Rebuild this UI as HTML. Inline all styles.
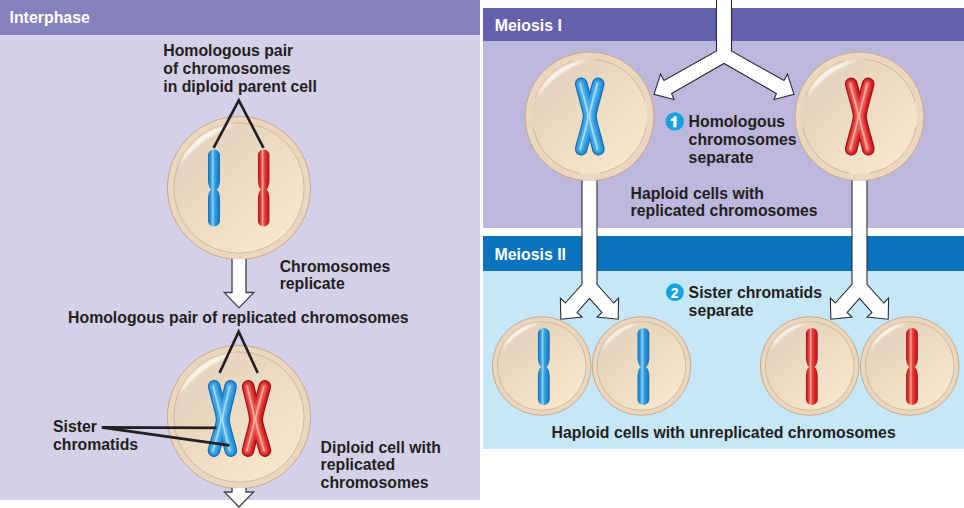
<!DOCTYPE html>
<html><head><meta charset="utf-8">
<style>
html,body{margin:0;padding:0;}
body{width:964px;height:508px;background:#fff;position:relative;overflow:hidden;font-family:"Liberation Sans",sans-serif;}
.p{position:absolute;}
.t{position:absolute;font-weight:bold;font-size:15.8px;line-height:17.6px;color:#231f20;white-space:nowrap;}
.h{position:absolute;font-weight:bold;font-size:15.9px;line-height:18px;color:#fff;white-space:nowrap;}
svg{position:absolute;left:0;top:0;}
</style></head><body>
<div class="p" style="left:0;top:0;width:480px;height:500px;background:#d4d0e7"></div>
<div class="p" style="left:0;top:0;width:480px;height:35px;background:#8681bd"></div>
<div class="p" style="left:483px;top:8px;width:481px;height:220px;background:#bcb7dc"></div>
<div class="p" style="left:483px;top:8px;width:481px;height:33px;background:#6460ab"></div>
<div class="p" style="left:483px;top:236px;width:481px;height:213px;background:#c6e7f7"></div>
<div class="p" style="left:483px;top:236px;width:481px;height:35px;background:#0b72be"></div>

<svg width="964" height="508" viewBox="0 0 964 508">
<defs>
  <linearGradient id="cellg" x1="0.15" y1="0.1" x2="0.85" y2="0.9">
    <stop offset="0" stop-color="#e3d2bc"/>
    <stop offset="0.5" stop-color="#ecdcc3"/>
    <stop offset="1" stop-color="#f7e8cc"/>
  </linearGradient>
  <filter id="blur05" x="-50%" y="-50%" width="200%" height="200%"><feGaussianBlur stdDeviation="0.5"/></filter>
  <filter id="blur15" x="-50%" y="-50%" width="200%" height="200%"><feGaussianBlur stdDeviation="1.8"/></filter>
  <filter id="blur1" x="-50%" y="-50%" width="200%" height="200%"><feGaussianBlur stdDeviation="1.3"/></filter>
  <linearGradient id="hl" x1="0" y1="0" x2="1" y2="1">
    <stop offset="0" stop-color="#fff" stop-opacity="0.9"/>
    <stop offset="1" stop-color="#fff" stop-opacity="0"/>
  </linearGradient>
  <linearGradient id="blueg" x1="0" y1="0" x2="1" y2="0">
    <stop offset="0" stop-color="#1a69b3"/>
    <stop offset="0.14" stop-color="#218ad4"/>
    <stop offset="0.28" stop-color="#45a9e6"/>
    <stop offset="0.40" stop-color="#8ed2f4"/>
    <stop offset="0.54" stop-color="#3ca2e0"/>
    <stop offset="0.8" stop-color="#1f86d0"/>
    <stop offset="1" stop-color="#1966af"/>
  </linearGradient>
  <linearGradient id="redg" x1="0" y1="0" x2="1" y2="0">
    <stop offset="0" stop-color="#a51419"/>
    <stop offset="0.14" stop-color="#d92126"/>
    <stop offset="0.28" stop-color="#ea4c44"/>
    <stop offset="0.40" stop-color="#fcaa9c"/>
    <stop offset="0.54" stop-color="#e7463e"/>
    <stop offset="0.8" stop-color="#d61f24"/>
    <stop offset="1" stop-color="#a31419"/>
  </linearGradient>
  
</defs>


<!-- GEN START -->
<circle cx="239" cy="188" r="71.5" fill="#ebd7bf" stroke="#c9a987" stroke-width="1"/><circle cx="239" cy="188" r="65.2" fill="url(#cellg)"/><circle cx="239" cy="188" r="65.2" fill="none" stroke="#cdae8e" stroke-width="0.8"/><path d="M178.86,166.11 A64.00,64.00 0 0 1 236.77,124.04 A121.60,121.60 0 0 0 178.86,166.11 Z" fill="#fffaf0" fill-opacity="0.88" filter="url(#blur1)"/>
<circle cx="239" cy="417" r="71.5" fill="#ebd7bf" stroke="#c9a987" stroke-width="1"/><circle cx="239" cy="417" r="65.2" fill="url(#cellg)"/><circle cx="239" cy="417" r="65.2" fill="none" stroke="#cdae8e" stroke-width="0.8"/><path d="M178.86,395.11 A64.00,64.00 0 0 1 236.77,353.04 A121.60,121.60 0 0 0 178.86,395.11 Z" fill="#fffaf0" fill-opacity="0.88" filter="url(#blur1)"/>
<circle cx="589.5" cy="116.5" r="64.5" fill="#ebd7bf" stroke="#c9a987" stroke-width="1"/><circle cx="589.5" cy="116.5" r="57.5" fill="url(#cellg)"/><path d="M535.47,96.83 A57.5,57.5 0 0 1 574.62,60.96" fill="none" stroke="#cdae8e" stroke-width="0.8"/><path d="M594.51,59.22 A57.5,57.5 0 0 1 645.04,101.62" fill="none" stroke="#cdae8e" stroke-width="0.8"/><path d="M646.13,126.48 A57.5,57.5 0 0 1 599.48,173.13" fill="none" stroke="#cdae8e" stroke-width="0.8"/><path d="M579.52,173.13 A57.5,57.5 0 0 1 532.87,126.48" fill="none" stroke="#cdae8e" stroke-width="0.8"/><path d="M536.60,97.24 A56.30,56.30 0 0 1 587.54,60.23 A106.97,106.97 0 0 0 536.60,97.24 Z" fill="#fffaf0" fill-opacity="0.88" filter="url(#blur1)"/>
<circle cx="859.5" cy="116.5" r="64.5" fill="#ebd7bf" stroke="#c9a987" stroke-width="1"/><circle cx="859.5" cy="116.5" r="57.5" fill="url(#cellg)"/><path d="M805.47,96.83 A57.5,57.5 0 0 1 844.62,60.96" fill="none" stroke="#cdae8e" stroke-width="0.8"/><path d="M864.51,59.22 A57.5,57.5 0 0 1 915.04,101.62" fill="none" stroke="#cdae8e" stroke-width="0.8"/><path d="M916.13,126.48 A57.5,57.5 0 0 1 869.48,173.13" fill="none" stroke="#cdae8e" stroke-width="0.8"/><path d="M849.52,173.13 A57.5,57.5 0 0 1 802.87,126.48" fill="none" stroke="#cdae8e" stroke-width="0.8"/><path d="M806.60,97.24 A56.30,56.30 0 0 1 857.54,60.23 A106.97,106.97 0 0 0 806.60,97.24 Z" fill="#fffaf0" fill-opacity="0.88" filter="url(#blur1)"/>
<circle cx="541.7" cy="366" r="49.3" fill="#ebd7bf" stroke="#c9a987" stroke-width="1"/><circle cx="541.7" cy="366" r="44.3" fill="url(#cellg)"/><circle cx="541.7" cy="366" r="44.3" fill="none" stroke="#cdae8e" stroke-width="0.8"/><path d="M501.20,351.26 A43.10,43.10 0 0 1 540.20,322.93 A81.89,81.89 0 0 0 501.20,351.26 Z" fill="#fffaf0" fill-opacity="0.88" filter="url(#blur1)"/>
<circle cx="641.5" cy="366" r="49.3" fill="#ebd7bf" stroke="#c9a987" stroke-width="1"/><circle cx="641.5" cy="366" r="44.3" fill="url(#cellg)"/><circle cx="641.5" cy="366" r="44.3" fill="none" stroke="#cdae8e" stroke-width="0.8"/><path d="M601.00,351.26 A43.10,43.10 0 0 1 640.00,322.93 A81.89,81.89 0 0 0 601.00,351.26 Z" fill="#fffaf0" fill-opacity="0.88" filter="url(#blur1)"/>
<circle cx="809.7" cy="366" r="49.3" fill="#ebd7bf" stroke="#c9a987" stroke-width="1"/><circle cx="809.7" cy="366" r="44.3" fill="url(#cellg)"/><circle cx="809.7" cy="366" r="44.3" fill="none" stroke="#cdae8e" stroke-width="0.8"/><path d="M769.20,351.26 A43.10,43.10 0 0 1 808.20,322.93 A81.89,81.89 0 0 0 769.20,351.26 Z" fill="#fffaf0" fill-opacity="0.88" filter="url(#blur1)"/>
<circle cx="909.7" cy="366" r="49.3" fill="#ebd7bf" stroke="#c9a987" stroke-width="1"/><circle cx="909.7" cy="366" r="44.3" fill="url(#cellg)"/><circle cx="909.7" cy="366" r="44.3" fill="none" stroke="#cdae8e" stroke-width="0.8"/><path d="M869.20,351.26 A43.10,43.10 0 0 1 908.20,322.93 A81.89,81.89 0 0 0 869.20,351.26 Z" fill="#fffaf0" fill-opacity="0.88" filter="url(#blur1)"/>
<path d="M214.00,149.50 L216.40,150.00 L217.32,150.50 L217.97,151.00 L218.47,151.50 L218.87,152.00 L219.20,152.50 L219.45,153.00 L219.66,153.50 L219.81,154.00 L219.92,154.50 L219.98,155.00 L220.00,155.50 L220.00,156.00 L220.00,156.50 L220.00,157.00 L220.00,157.50 L220.00,158.00 L220.00,158.50 L220.00,159.00 L220.00,159.50 L220.00,160.00 L220.00,160.50 L220.00,161.00 L220.00,161.50 L220.00,162.00 L220.00,162.50 L220.00,163.00 L220.00,163.50 L220.00,164.00 L220.00,164.50 L220.00,165.00 L220.00,165.50 L220.00,166.00 L220.00,166.50 L220.00,167.00 L220.00,167.50 L220.00,168.00 L220.00,168.50 L220.00,169.00 L220.00,169.50 L220.00,170.00 L220.00,170.50 L220.00,171.00 L220.00,171.50 L220.00,172.00 L220.00,172.50 L220.00,173.00 L220.00,173.50 L220.00,174.00 L220.00,174.50 L220.00,175.00 L220.00,175.50 L220.00,176.00 L220.00,176.50 L220.00,177.00 L220.00,177.50 L220.00,178.00 L220.00,178.50 L220.00,179.00 L220.00,179.50 L220.00,180.00 L219.98,180.50 L219.96,181.00 L219.92,181.50 L219.87,182.00 L219.82,182.50 L219.75,183.00 L219.67,183.50 L219.58,184.00 L219.47,184.50 L219.35,185.00 L219.22,185.50 L219.06,186.00 L218.89,186.50 L218.68,187.00 L218.45,187.50 L218.18,188.00 L217.84,188.50 L217.40,189.00 L216.40,189.50 L217.40,190.00 L217.84,190.50 L218.18,191.00 L218.45,191.50 L218.68,192.00 L218.89,192.50 L219.06,193.00 L219.22,193.50 L219.35,194.00 L219.47,194.50 L219.58,195.00 L219.67,195.50 L219.75,196.00 L219.82,196.50 L219.87,197.00 L219.92,197.50 L219.96,198.00 L219.98,198.50 L220.00,199.00 L220.00,199.50 L220.00,200.00 L220.00,200.50 L220.00,201.00 L220.00,201.50 L220.00,202.00 L220.00,202.50 L220.00,203.00 L220.00,203.50 L220.00,204.00 L220.00,204.50 L220.00,205.00 L220.00,205.50 L220.00,206.00 L220.00,206.50 L220.00,207.00 L220.00,207.50 L220.00,208.00 L220.00,208.50 L220.00,209.00 L220.00,209.50 L220.00,210.00 L220.00,210.50 L220.00,211.00 L220.00,211.50 L220.00,212.00 L220.00,212.50 L220.00,213.00 L220.00,213.50 L220.00,214.00 L220.00,214.50 L220.00,215.00 L220.00,215.50 L220.00,216.00 L220.00,216.50 L220.00,217.00 L220.00,217.50 L220.00,218.00 L220.00,218.50 L220.00,219.00 L220.00,219.50 L220.00,220.00 L220.00,220.50 L219.98,221.00 L219.92,221.50 L219.81,222.00 L219.66,222.50 L219.45,223.00 L219.20,223.50 L218.87,224.00 L218.47,224.50 L217.97,225.00 L217.32,225.50 L216.40,226.00 L214.00,226.50 L214.00,226.50 L211.60,226.00 L210.68,225.50 L210.03,225.00 L209.53,224.50 L209.13,224.00 L208.80,223.50 L208.55,223.00 L208.34,222.50 L208.19,222.00 L208.08,221.50 L208.02,221.00 L208.00,220.50 L208.00,220.00 L208.00,219.50 L208.00,219.00 L208.00,218.50 L208.00,218.00 L208.00,217.50 L208.00,217.00 L208.00,216.50 L208.00,216.00 L208.00,215.50 L208.00,215.00 L208.00,214.50 L208.00,214.00 L208.00,213.50 L208.00,213.00 L208.00,212.50 L208.00,212.00 L208.00,211.50 L208.00,211.00 L208.00,210.50 L208.00,210.00 L208.00,209.50 L208.00,209.00 L208.00,208.50 L208.00,208.00 L208.00,207.50 L208.00,207.00 L208.00,206.50 L208.00,206.00 L208.00,205.50 L208.00,205.00 L208.00,204.50 L208.00,204.00 L208.00,203.50 L208.00,203.00 L208.00,202.50 L208.00,202.00 L208.00,201.50 L208.00,201.00 L208.00,200.50 L208.00,200.00 L208.00,199.50 L208.00,199.00 L208.02,198.50 L208.04,198.00 L208.08,197.50 L208.13,197.00 L208.18,196.50 L208.25,196.00 L208.33,195.50 L208.42,195.00 L208.53,194.50 L208.65,194.00 L208.78,193.50 L208.94,193.00 L209.11,192.50 L209.32,192.00 L209.55,191.50 L209.82,191.00 L210.16,190.50 L210.60,190.00 L211.60,189.50 L210.60,189.00 L210.16,188.50 L209.82,188.00 L209.55,187.50 L209.32,187.00 L209.11,186.50 L208.94,186.00 L208.78,185.50 L208.65,185.00 L208.53,184.50 L208.42,184.00 L208.33,183.50 L208.25,183.00 L208.18,182.50 L208.13,182.00 L208.08,181.50 L208.04,181.00 L208.02,180.50 L208.00,180.00 L208.00,179.50 L208.00,179.00 L208.00,178.50 L208.00,178.00 L208.00,177.50 L208.00,177.00 L208.00,176.50 L208.00,176.00 L208.00,175.50 L208.00,175.00 L208.00,174.50 L208.00,174.00 L208.00,173.50 L208.00,173.00 L208.00,172.50 L208.00,172.00 L208.00,171.50 L208.00,171.00 L208.00,170.50 L208.00,170.00 L208.00,169.50 L208.00,169.00 L208.00,168.50 L208.00,168.00 L208.00,167.50 L208.00,167.00 L208.00,166.50 L208.00,166.00 L208.00,165.50 L208.00,165.00 L208.00,164.50 L208.00,164.00 L208.00,163.50 L208.00,163.00 L208.00,162.50 L208.00,162.00 L208.00,161.50 L208.00,161.00 L208.00,160.50 L208.00,160.00 L208.00,159.50 L208.00,159.00 L208.00,158.50 L208.00,158.00 L208.00,157.50 L208.00,157.00 L208.00,156.50 L208.00,156.00 L208.00,155.50 L208.02,155.00 L208.08,154.50 L208.19,154.00 L208.34,153.50 L208.55,153.00 L208.80,152.50 L209.13,152.00 L209.53,151.50 L210.03,151.00 L210.68,150.50 L211.60,150.00 L214.00,149.50 Z" fill="url(#blueg)"/>
<path d="M263.70,149.50 L266.05,150.00 L266.94,150.50 L267.57,151.00 L268.06,151.50 L268.44,152.00 L268.75,152.50 L268.99,153.00 L269.18,153.50 L269.31,154.00 L269.40,154.50 L269.44,155.00 L269.45,155.50 L269.45,156.00 L269.45,156.50 L269.45,157.00 L269.45,157.50 L269.45,158.00 L269.45,158.50 L269.45,159.00 L269.45,159.50 L269.45,160.00 L269.45,160.50 L269.45,161.00 L269.45,161.50 L269.45,162.00 L269.45,162.50 L269.45,163.00 L269.45,163.50 L269.45,164.00 L269.45,164.50 L269.45,165.00 L269.45,165.50 L269.45,166.00 L269.45,166.50 L269.45,167.00 L269.45,167.50 L269.45,168.00 L269.45,168.50 L269.45,169.00 L269.45,169.50 L269.45,170.00 L269.45,170.50 L269.45,171.00 L269.45,171.50 L269.45,172.00 L269.45,172.50 L269.45,173.00 L269.45,173.50 L269.45,174.00 L269.45,174.50 L269.45,175.00 L269.45,175.50 L269.45,176.00 L269.45,176.50 L269.45,177.00 L269.45,177.50 L269.45,178.00 L269.45,178.50 L269.45,179.00 L269.45,179.50 L269.45,180.00 L269.43,180.50 L269.41,181.00 L269.38,181.50 L269.33,182.00 L269.28,182.50 L269.22,183.00 L269.14,183.50 L269.06,184.00 L268.96,184.50 L268.85,185.00 L268.72,185.50 L268.58,186.00 L268.41,186.50 L268.23,187.00 L268.01,187.50 L267.76,188.00 L267.44,188.50 L267.03,189.00 L266.10,189.50 L267.03,190.00 L267.44,190.50 L267.76,191.00 L268.01,191.50 L268.23,192.00 L268.41,192.50 L268.58,193.00 L268.72,193.50 L268.85,194.00 L268.96,194.50 L269.06,195.00 L269.14,195.50 L269.22,196.00 L269.28,196.50 L269.33,197.00 L269.38,197.50 L269.41,198.00 L269.43,198.50 L269.45,199.00 L269.45,199.50 L269.45,200.00 L269.45,200.50 L269.45,201.00 L269.45,201.50 L269.45,202.00 L269.45,202.50 L269.45,203.00 L269.45,203.50 L269.45,204.00 L269.45,204.50 L269.45,205.00 L269.45,205.50 L269.45,206.00 L269.45,206.50 L269.45,207.00 L269.45,207.50 L269.45,208.00 L269.45,208.50 L269.45,209.00 L269.45,209.50 L269.45,210.00 L269.45,210.50 L269.45,211.00 L269.45,211.50 L269.45,212.00 L269.45,212.50 L269.45,213.00 L269.45,213.50 L269.45,214.00 L269.45,214.50 L269.45,215.00 L269.45,215.50 L269.45,216.00 L269.45,216.50 L269.45,217.00 L269.45,217.50 L269.45,218.00 L269.45,218.50 L269.45,219.00 L269.45,219.50 L269.45,220.00 L269.45,220.50 L269.44,221.00 L269.40,221.50 L269.31,222.00 L269.18,222.50 L268.99,223.00 L268.75,223.50 L268.44,224.00 L268.06,224.50 L267.57,225.00 L266.94,225.50 L266.05,226.00 L263.70,226.50 L263.70,226.50 L261.35,226.00 L260.46,225.50 L259.83,225.00 L259.34,224.50 L258.96,224.00 L258.65,223.50 L258.41,223.00 L258.22,222.50 L258.09,222.00 L258.00,221.50 L257.96,221.00 L257.95,220.50 L257.95,220.00 L257.95,219.50 L257.95,219.00 L257.95,218.50 L257.95,218.00 L257.95,217.50 L257.95,217.00 L257.95,216.50 L257.95,216.00 L257.95,215.50 L257.95,215.00 L257.95,214.50 L257.95,214.00 L257.95,213.50 L257.95,213.00 L257.95,212.50 L257.95,212.00 L257.95,211.50 L257.95,211.00 L257.95,210.50 L257.95,210.00 L257.95,209.50 L257.95,209.00 L257.95,208.50 L257.95,208.00 L257.95,207.50 L257.95,207.00 L257.95,206.50 L257.95,206.00 L257.95,205.50 L257.95,205.00 L257.95,204.50 L257.95,204.00 L257.95,203.50 L257.95,203.00 L257.95,202.50 L257.95,202.00 L257.95,201.50 L257.95,201.00 L257.95,200.50 L257.95,200.00 L257.95,199.50 L257.95,199.00 L257.97,198.50 L257.99,198.00 L258.02,197.50 L258.07,197.00 L258.12,196.50 L258.18,196.00 L258.26,195.50 L258.34,195.00 L258.44,194.50 L258.55,194.00 L258.68,193.50 L258.82,193.00 L258.99,192.50 L259.17,192.00 L259.39,191.50 L259.64,191.00 L259.96,190.50 L260.37,190.00 L261.30,189.50 L260.37,189.00 L259.96,188.50 L259.64,188.00 L259.39,187.50 L259.17,187.00 L258.99,186.50 L258.82,186.00 L258.68,185.50 L258.55,185.00 L258.44,184.50 L258.34,184.00 L258.26,183.50 L258.18,183.00 L258.12,182.50 L258.07,182.00 L258.02,181.50 L257.99,181.00 L257.97,180.50 L257.95,180.00 L257.95,179.50 L257.95,179.00 L257.95,178.50 L257.95,178.00 L257.95,177.50 L257.95,177.00 L257.95,176.50 L257.95,176.00 L257.95,175.50 L257.95,175.00 L257.95,174.50 L257.95,174.00 L257.95,173.50 L257.95,173.00 L257.95,172.50 L257.95,172.00 L257.95,171.50 L257.95,171.00 L257.95,170.50 L257.95,170.00 L257.95,169.50 L257.95,169.00 L257.95,168.50 L257.95,168.00 L257.95,167.50 L257.95,167.00 L257.95,166.50 L257.95,166.00 L257.95,165.50 L257.95,165.00 L257.95,164.50 L257.95,164.00 L257.95,163.50 L257.95,163.00 L257.95,162.50 L257.95,162.00 L257.95,161.50 L257.95,161.00 L257.95,160.50 L257.95,160.00 L257.95,159.50 L257.95,159.00 L257.95,158.50 L257.95,158.00 L257.95,157.50 L257.95,157.00 L257.95,156.50 L257.95,156.00 L257.95,155.50 L257.96,155.00 L258.00,154.50 L258.09,154.00 L258.22,153.50 L258.41,153.00 L258.65,152.50 L258.96,152.00 L259.34,151.50 L259.83,151.00 L260.46,150.50 L261.35,150.00 L263.70,149.50 Z" fill="url(#redg)"/>
<path d="M543.80,328.00 L546.18,328.50 L547.09,329.00 L547.73,329.50 L548.23,330.00 L548.62,330.50 L548.94,331.00 L549.19,331.50 L549.39,332.00 L549.53,332.50 L549.63,333.00 L549.69,333.50 L549.70,334.00 L549.70,334.50 L549.70,335.00 L549.70,335.50 L549.70,336.00 L549.70,336.50 L549.70,337.00 L549.70,337.50 L549.70,338.00 L549.70,338.50 L549.70,339.00 L549.70,339.50 L549.70,340.00 L549.70,340.50 L549.70,341.00 L549.70,341.50 L549.70,342.00 L549.70,342.50 L549.70,343.00 L549.70,343.50 L549.70,344.00 L549.70,344.50 L549.70,345.00 L549.70,345.50 L549.70,346.00 L549.70,346.50 L549.70,347.00 L549.70,347.50 L549.70,348.00 L549.70,348.50 L549.70,349.00 L549.70,349.50 L549.70,350.00 L549.70,350.50 L549.70,351.00 L549.70,351.50 L549.70,352.00 L549.70,352.50 L549.70,353.00 L549.70,353.50 L549.70,354.00 L549.70,354.50 L549.70,355.00 L549.70,355.50 L549.70,356.00 L549.70,356.50 L549.70,357.00 L549.69,357.50 L549.68,358.00 L549.65,358.50 L549.62,359.00 L549.57,359.50 L549.51,360.00 L549.44,360.50 L549.36,361.00 L549.27,361.50 L549.16,362.00 L549.03,362.50 L548.89,363.00 L548.74,363.50 L548.55,364.00 L548.35,364.50 L548.11,365.00 L547.83,365.50 L547.48,366.00 L547.03,366.50 L546.00,367.00 L547.03,367.50 L547.48,368.00 L547.83,368.50 L548.11,369.00 L548.35,369.50 L548.55,370.00 L548.74,370.50 L548.89,371.00 L549.03,371.50 L549.16,372.00 L549.27,372.50 L549.36,373.00 L549.44,373.50 L549.51,374.00 L549.57,374.50 L549.62,375.00 L549.65,375.50 L549.68,376.00 L549.69,376.50 L549.70,377.00 L549.70,377.50 L549.70,378.00 L549.70,378.50 L549.70,379.00 L549.70,379.50 L549.70,380.00 L549.70,380.50 L549.70,381.00 L549.70,381.50 L549.70,382.00 L549.70,382.50 L549.70,383.00 L549.70,383.50 L549.70,384.00 L549.70,384.50 L549.70,385.00 L549.70,385.50 L549.70,386.00 L549.70,386.50 L549.70,387.00 L549.70,387.50 L549.70,388.00 L549.70,388.50 L549.70,389.00 L549.70,389.50 L549.70,390.00 L549.70,390.50 L549.70,391.00 L549.70,391.50 L549.70,392.00 L549.70,392.50 L549.70,393.00 L549.70,393.50 L549.70,394.00 L549.70,394.50 L549.70,395.00 L549.70,395.50 L549.70,396.00 L549.70,396.50 L549.70,397.00 L549.70,397.50 L549.70,398.00 L549.70,398.50 L549.70,399.00 L549.69,399.50 L549.63,400.00 L549.53,400.50 L549.39,401.00 L549.19,401.50 L548.94,402.00 L548.62,402.50 L548.23,403.00 L547.73,403.50 L547.09,404.00 L546.18,404.50 L543.80,405.00 L543.80,405.00 L541.42,404.50 L540.51,404.00 L539.87,403.50 L539.37,403.00 L538.98,402.50 L538.66,402.00 L538.41,401.50 L538.21,401.00 L538.07,400.50 L537.97,400.00 L537.91,399.50 L537.90,399.00 L537.90,398.50 L537.90,398.00 L537.90,397.50 L537.90,397.00 L537.90,396.50 L537.90,396.00 L537.90,395.50 L537.90,395.00 L537.90,394.50 L537.90,394.00 L537.90,393.50 L537.90,393.00 L537.90,392.50 L537.90,392.00 L537.90,391.50 L537.90,391.00 L537.90,390.50 L537.90,390.00 L537.90,389.50 L537.90,389.00 L537.90,388.50 L537.90,388.00 L537.90,387.50 L537.90,387.00 L537.90,386.50 L537.90,386.00 L537.90,385.50 L537.90,385.00 L537.90,384.50 L537.90,384.00 L537.90,383.50 L537.90,383.00 L537.90,382.50 L537.90,382.00 L537.90,381.50 L537.90,381.00 L537.90,380.50 L537.90,380.00 L537.90,379.50 L537.90,379.00 L537.90,378.50 L537.90,378.00 L537.90,377.50 L537.90,377.00 L537.91,376.50 L537.92,376.00 L537.95,375.50 L537.98,375.00 L538.03,374.50 L538.09,374.00 L538.16,373.50 L538.24,373.00 L538.33,372.50 L538.44,372.00 L538.57,371.50 L538.71,371.00 L538.86,370.50 L539.05,370.00 L539.25,369.50 L539.49,369.00 L539.77,368.50 L540.12,368.00 L540.57,367.50 L541.60,367.00 L540.57,366.50 L540.12,366.00 L539.77,365.50 L539.49,365.00 L539.25,364.50 L539.05,364.00 L538.86,363.50 L538.71,363.00 L538.57,362.50 L538.44,362.00 L538.33,361.50 L538.24,361.00 L538.16,360.50 L538.09,360.00 L538.03,359.50 L537.98,359.00 L537.95,358.50 L537.92,358.00 L537.91,357.50 L537.90,357.00 L537.90,356.50 L537.90,356.00 L537.90,355.50 L537.90,355.00 L537.90,354.50 L537.90,354.00 L537.90,353.50 L537.90,353.00 L537.90,352.50 L537.90,352.00 L537.90,351.50 L537.90,351.00 L537.90,350.50 L537.90,350.00 L537.90,349.50 L537.90,349.00 L537.90,348.50 L537.90,348.00 L537.90,347.50 L537.90,347.00 L537.90,346.50 L537.90,346.00 L537.90,345.50 L537.90,345.00 L537.90,344.50 L537.90,344.00 L537.90,343.50 L537.90,343.00 L537.90,342.50 L537.90,342.00 L537.90,341.50 L537.90,341.00 L537.90,340.50 L537.90,340.00 L537.90,339.50 L537.90,339.00 L537.90,338.50 L537.90,338.00 L537.90,337.50 L537.90,337.00 L537.90,336.50 L537.90,336.00 L537.90,335.50 L537.90,335.00 L537.90,334.50 L537.90,334.00 L537.91,333.50 L537.97,333.00 L538.07,332.50 L538.21,332.00 L538.41,331.50 L538.66,331.00 L538.98,330.50 L539.37,330.00 L539.87,329.50 L540.51,329.00 L541.42,328.50 L543.80,328.00 Z" fill="url(#blueg)"/>
<path d="M643.40,328.00 L645.78,328.50 L646.69,329.00 L647.33,329.50 L647.83,330.00 L648.22,330.50 L648.54,331.00 L648.79,331.50 L648.99,332.00 L649.13,332.50 L649.23,333.00 L649.29,333.50 L649.30,334.00 L649.30,334.50 L649.30,335.00 L649.30,335.50 L649.30,336.00 L649.30,336.50 L649.30,337.00 L649.30,337.50 L649.30,338.00 L649.30,338.50 L649.30,339.00 L649.30,339.50 L649.30,340.00 L649.30,340.50 L649.30,341.00 L649.30,341.50 L649.30,342.00 L649.30,342.50 L649.30,343.00 L649.30,343.50 L649.30,344.00 L649.30,344.50 L649.30,345.00 L649.30,345.50 L649.30,346.00 L649.30,346.50 L649.30,347.00 L649.30,347.50 L649.30,348.00 L649.30,348.50 L649.30,349.00 L649.30,349.50 L649.30,350.00 L649.30,350.50 L649.30,351.00 L649.30,351.50 L649.30,352.00 L649.30,352.50 L649.30,353.00 L649.30,353.50 L649.30,354.00 L649.30,354.50 L649.30,355.00 L649.30,355.50 L649.30,356.00 L649.30,356.50 L649.30,357.00 L649.29,357.50 L649.28,358.00 L649.25,358.50 L649.22,359.00 L649.17,359.50 L649.11,360.00 L649.04,360.50 L648.96,361.00 L648.87,361.50 L648.76,362.00 L648.63,362.50 L648.49,363.00 L648.34,363.50 L648.15,364.00 L647.95,364.50 L647.71,365.00 L647.43,365.50 L647.08,366.00 L646.63,366.50 L645.60,367.00 L646.63,367.50 L647.08,368.00 L647.43,368.50 L647.71,369.00 L647.95,369.50 L648.15,370.00 L648.34,370.50 L648.49,371.00 L648.63,371.50 L648.76,372.00 L648.87,372.50 L648.96,373.00 L649.04,373.50 L649.11,374.00 L649.17,374.50 L649.22,375.00 L649.25,375.50 L649.28,376.00 L649.29,376.50 L649.30,377.00 L649.30,377.50 L649.30,378.00 L649.30,378.50 L649.30,379.00 L649.30,379.50 L649.30,380.00 L649.30,380.50 L649.30,381.00 L649.30,381.50 L649.30,382.00 L649.30,382.50 L649.30,383.00 L649.30,383.50 L649.30,384.00 L649.30,384.50 L649.30,385.00 L649.30,385.50 L649.30,386.00 L649.30,386.50 L649.30,387.00 L649.30,387.50 L649.30,388.00 L649.30,388.50 L649.30,389.00 L649.30,389.50 L649.30,390.00 L649.30,390.50 L649.30,391.00 L649.30,391.50 L649.30,392.00 L649.30,392.50 L649.30,393.00 L649.30,393.50 L649.30,394.00 L649.30,394.50 L649.30,395.00 L649.30,395.50 L649.30,396.00 L649.30,396.50 L649.30,397.00 L649.30,397.50 L649.30,398.00 L649.30,398.50 L649.30,399.00 L649.29,399.50 L649.23,400.00 L649.13,400.50 L648.99,401.00 L648.79,401.50 L648.54,402.00 L648.22,402.50 L647.83,403.00 L647.33,403.50 L646.69,404.00 L645.78,404.50 L643.40,405.00 L643.40,405.00 L641.02,404.50 L640.11,404.00 L639.47,403.50 L638.97,403.00 L638.58,402.50 L638.26,402.00 L638.01,401.50 L637.81,401.00 L637.67,400.50 L637.57,400.00 L637.51,399.50 L637.50,399.00 L637.50,398.50 L637.50,398.00 L637.50,397.50 L637.50,397.00 L637.50,396.50 L637.50,396.00 L637.50,395.50 L637.50,395.00 L637.50,394.50 L637.50,394.00 L637.50,393.50 L637.50,393.00 L637.50,392.50 L637.50,392.00 L637.50,391.50 L637.50,391.00 L637.50,390.50 L637.50,390.00 L637.50,389.50 L637.50,389.00 L637.50,388.50 L637.50,388.00 L637.50,387.50 L637.50,387.00 L637.50,386.50 L637.50,386.00 L637.50,385.50 L637.50,385.00 L637.50,384.50 L637.50,384.00 L637.50,383.50 L637.50,383.00 L637.50,382.50 L637.50,382.00 L637.50,381.50 L637.50,381.00 L637.50,380.50 L637.50,380.00 L637.50,379.50 L637.50,379.00 L637.50,378.50 L637.50,378.00 L637.50,377.50 L637.50,377.00 L637.51,376.50 L637.52,376.00 L637.55,375.50 L637.58,375.00 L637.63,374.50 L637.69,374.00 L637.76,373.50 L637.84,373.00 L637.93,372.50 L638.04,372.00 L638.17,371.50 L638.31,371.00 L638.46,370.50 L638.65,370.00 L638.85,369.50 L639.09,369.00 L639.37,368.50 L639.72,368.00 L640.17,367.50 L641.20,367.00 L640.17,366.50 L639.72,366.00 L639.37,365.50 L639.09,365.00 L638.85,364.50 L638.65,364.00 L638.46,363.50 L638.31,363.00 L638.17,362.50 L638.04,362.00 L637.93,361.50 L637.84,361.00 L637.76,360.50 L637.69,360.00 L637.63,359.50 L637.58,359.00 L637.55,358.50 L637.52,358.00 L637.51,357.50 L637.50,357.00 L637.50,356.50 L637.50,356.00 L637.50,355.50 L637.50,355.00 L637.50,354.50 L637.50,354.00 L637.50,353.50 L637.50,353.00 L637.50,352.50 L637.50,352.00 L637.50,351.50 L637.50,351.00 L637.50,350.50 L637.50,350.00 L637.50,349.50 L637.50,349.00 L637.50,348.50 L637.50,348.00 L637.50,347.50 L637.50,347.00 L637.50,346.50 L637.50,346.00 L637.50,345.50 L637.50,345.00 L637.50,344.50 L637.50,344.00 L637.50,343.50 L637.50,343.00 L637.50,342.50 L637.50,342.00 L637.50,341.50 L637.50,341.00 L637.50,340.50 L637.50,340.00 L637.50,339.50 L637.50,339.00 L637.50,338.50 L637.50,338.00 L637.50,337.50 L637.50,337.00 L637.50,336.50 L637.50,336.00 L637.50,335.50 L637.50,335.00 L637.50,334.50 L637.50,334.00 L637.51,333.50 L637.57,333.00 L637.67,332.50 L637.81,332.00 L638.01,331.50 L638.26,331.00 L638.58,330.50 L638.97,330.00 L639.47,329.50 L640.11,329.00 L641.02,328.50 L643.40,328.00 Z" fill="url(#blueg)"/>
<path d="M811.80,328.00 L814.18,328.50 L815.09,329.00 L815.73,329.50 L816.23,330.00 L816.62,330.50 L816.94,331.00 L817.19,331.50 L817.39,332.00 L817.53,332.50 L817.63,333.00 L817.69,333.50 L817.70,334.00 L817.70,334.50 L817.70,335.00 L817.70,335.50 L817.70,336.00 L817.70,336.50 L817.70,337.00 L817.70,337.50 L817.70,338.00 L817.70,338.50 L817.70,339.00 L817.70,339.50 L817.70,340.00 L817.70,340.50 L817.70,341.00 L817.70,341.50 L817.70,342.00 L817.70,342.50 L817.70,343.00 L817.70,343.50 L817.70,344.00 L817.70,344.50 L817.70,345.00 L817.70,345.50 L817.70,346.00 L817.70,346.50 L817.70,347.00 L817.70,347.50 L817.70,348.00 L817.70,348.50 L817.70,349.00 L817.70,349.50 L817.70,350.00 L817.70,350.50 L817.70,351.00 L817.70,351.50 L817.70,352.00 L817.70,352.50 L817.70,353.00 L817.70,353.50 L817.70,354.00 L817.70,354.50 L817.70,355.00 L817.70,355.50 L817.70,356.00 L817.70,356.50 L817.70,357.00 L817.69,357.50 L817.68,358.00 L817.65,358.50 L817.62,359.00 L817.57,359.50 L817.51,360.00 L817.44,360.50 L817.36,361.00 L817.27,361.50 L817.16,362.00 L817.03,362.50 L816.89,363.00 L816.74,363.50 L816.55,364.00 L816.35,364.50 L816.11,365.00 L815.83,365.50 L815.48,366.00 L815.03,366.50 L814.00,367.00 L815.03,367.50 L815.48,368.00 L815.83,368.50 L816.11,369.00 L816.35,369.50 L816.55,370.00 L816.74,370.50 L816.89,371.00 L817.03,371.50 L817.16,372.00 L817.27,372.50 L817.36,373.00 L817.44,373.50 L817.51,374.00 L817.57,374.50 L817.62,375.00 L817.65,375.50 L817.68,376.00 L817.69,376.50 L817.70,377.00 L817.70,377.50 L817.70,378.00 L817.70,378.50 L817.70,379.00 L817.70,379.50 L817.70,380.00 L817.70,380.50 L817.70,381.00 L817.70,381.50 L817.70,382.00 L817.70,382.50 L817.70,383.00 L817.70,383.50 L817.70,384.00 L817.70,384.50 L817.70,385.00 L817.70,385.50 L817.70,386.00 L817.70,386.50 L817.70,387.00 L817.70,387.50 L817.70,388.00 L817.70,388.50 L817.70,389.00 L817.70,389.50 L817.70,390.00 L817.70,390.50 L817.70,391.00 L817.70,391.50 L817.70,392.00 L817.70,392.50 L817.70,393.00 L817.70,393.50 L817.70,394.00 L817.70,394.50 L817.70,395.00 L817.70,395.50 L817.70,396.00 L817.70,396.50 L817.70,397.00 L817.70,397.50 L817.70,398.00 L817.70,398.50 L817.70,399.00 L817.69,399.50 L817.63,400.00 L817.53,400.50 L817.39,401.00 L817.19,401.50 L816.94,402.00 L816.62,402.50 L816.23,403.00 L815.73,403.50 L815.09,404.00 L814.18,404.50 L811.80,405.00 L811.80,405.00 L809.42,404.50 L808.51,404.00 L807.87,403.50 L807.37,403.00 L806.98,402.50 L806.66,402.00 L806.41,401.50 L806.21,401.00 L806.07,400.50 L805.97,400.00 L805.91,399.50 L805.90,399.00 L805.90,398.50 L805.90,398.00 L805.90,397.50 L805.90,397.00 L805.90,396.50 L805.90,396.00 L805.90,395.50 L805.90,395.00 L805.90,394.50 L805.90,394.00 L805.90,393.50 L805.90,393.00 L805.90,392.50 L805.90,392.00 L805.90,391.50 L805.90,391.00 L805.90,390.50 L805.90,390.00 L805.90,389.50 L805.90,389.00 L805.90,388.50 L805.90,388.00 L805.90,387.50 L805.90,387.00 L805.90,386.50 L805.90,386.00 L805.90,385.50 L805.90,385.00 L805.90,384.50 L805.90,384.00 L805.90,383.50 L805.90,383.00 L805.90,382.50 L805.90,382.00 L805.90,381.50 L805.90,381.00 L805.90,380.50 L805.90,380.00 L805.90,379.50 L805.90,379.00 L805.90,378.50 L805.90,378.00 L805.90,377.50 L805.90,377.00 L805.91,376.50 L805.92,376.00 L805.95,375.50 L805.98,375.00 L806.03,374.50 L806.09,374.00 L806.16,373.50 L806.24,373.00 L806.33,372.50 L806.44,372.00 L806.57,371.50 L806.71,371.00 L806.86,370.50 L807.05,370.00 L807.25,369.50 L807.49,369.00 L807.77,368.50 L808.12,368.00 L808.57,367.50 L809.60,367.00 L808.57,366.50 L808.12,366.00 L807.77,365.50 L807.49,365.00 L807.25,364.50 L807.05,364.00 L806.86,363.50 L806.71,363.00 L806.57,362.50 L806.44,362.00 L806.33,361.50 L806.24,361.00 L806.16,360.50 L806.09,360.00 L806.03,359.50 L805.98,359.00 L805.95,358.50 L805.92,358.00 L805.91,357.50 L805.90,357.00 L805.90,356.50 L805.90,356.00 L805.90,355.50 L805.90,355.00 L805.90,354.50 L805.90,354.00 L805.90,353.50 L805.90,353.00 L805.90,352.50 L805.90,352.00 L805.90,351.50 L805.90,351.00 L805.90,350.50 L805.90,350.00 L805.90,349.50 L805.90,349.00 L805.90,348.50 L805.90,348.00 L805.90,347.50 L805.90,347.00 L805.90,346.50 L805.90,346.00 L805.90,345.50 L805.90,345.00 L805.90,344.50 L805.90,344.00 L805.90,343.50 L805.90,343.00 L805.90,342.50 L805.90,342.00 L805.90,341.50 L805.90,341.00 L805.90,340.50 L805.90,340.00 L805.90,339.50 L805.90,339.00 L805.90,338.50 L805.90,338.00 L805.90,337.50 L805.90,337.00 L805.90,336.50 L805.90,336.00 L805.90,335.50 L805.90,335.00 L805.90,334.50 L805.90,334.00 L805.91,333.50 L805.97,333.00 L806.07,332.50 L806.21,332.00 L806.41,331.50 L806.66,331.00 L806.98,330.50 L807.37,330.00 L807.87,329.50 L808.51,329.00 L809.42,328.50 L811.80,328.00 Z" fill="url(#redg)"/>
<path d="M912.00,328.00 L914.38,328.50 L915.29,329.00 L915.93,329.50 L916.43,330.00 L916.82,330.50 L917.14,331.00 L917.39,331.50 L917.59,332.00 L917.73,332.50 L917.83,333.00 L917.89,333.50 L917.90,334.00 L917.90,334.50 L917.90,335.00 L917.90,335.50 L917.90,336.00 L917.90,336.50 L917.90,337.00 L917.90,337.50 L917.90,338.00 L917.90,338.50 L917.90,339.00 L917.90,339.50 L917.90,340.00 L917.90,340.50 L917.90,341.00 L917.90,341.50 L917.90,342.00 L917.90,342.50 L917.90,343.00 L917.90,343.50 L917.90,344.00 L917.90,344.50 L917.90,345.00 L917.90,345.50 L917.90,346.00 L917.90,346.50 L917.90,347.00 L917.90,347.50 L917.90,348.00 L917.90,348.50 L917.90,349.00 L917.90,349.50 L917.90,350.00 L917.90,350.50 L917.90,351.00 L917.90,351.50 L917.90,352.00 L917.90,352.50 L917.90,353.00 L917.90,353.50 L917.90,354.00 L917.90,354.50 L917.90,355.00 L917.90,355.50 L917.90,356.00 L917.90,356.50 L917.90,357.00 L917.89,357.50 L917.88,358.00 L917.85,358.50 L917.82,359.00 L917.77,359.50 L917.71,360.00 L917.64,360.50 L917.56,361.00 L917.47,361.50 L917.36,362.00 L917.23,362.50 L917.09,363.00 L916.94,363.50 L916.75,364.00 L916.55,364.50 L916.31,365.00 L916.03,365.50 L915.68,366.00 L915.23,366.50 L914.20,367.00 L915.23,367.50 L915.68,368.00 L916.03,368.50 L916.31,369.00 L916.55,369.50 L916.75,370.00 L916.94,370.50 L917.09,371.00 L917.23,371.50 L917.36,372.00 L917.47,372.50 L917.56,373.00 L917.64,373.50 L917.71,374.00 L917.77,374.50 L917.82,375.00 L917.85,375.50 L917.88,376.00 L917.89,376.50 L917.90,377.00 L917.90,377.50 L917.90,378.00 L917.90,378.50 L917.90,379.00 L917.90,379.50 L917.90,380.00 L917.90,380.50 L917.90,381.00 L917.90,381.50 L917.90,382.00 L917.90,382.50 L917.90,383.00 L917.90,383.50 L917.90,384.00 L917.90,384.50 L917.90,385.00 L917.90,385.50 L917.90,386.00 L917.90,386.50 L917.90,387.00 L917.90,387.50 L917.90,388.00 L917.90,388.50 L917.90,389.00 L917.90,389.50 L917.90,390.00 L917.90,390.50 L917.90,391.00 L917.90,391.50 L917.90,392.00 L917.90,392.50 L917.90,393.00 L917.90,393.50 L917.90,394.00 L917.90,394.50 L917.90,395.00 L917.90,395.50 L917.90,396.00 L917.90,396.50 L917.90,397.00 L917.90,397.50 L917.90,398.00 L917.90,398.50 L917.90,399.00 L917.89,399.50 L917.83,400.00 L917.73,400.50 L917.59,401.00 L917.39,401.50 L917.14,402.00 L916.82,402.50 L916.43,403.00 L915.93,403.50 L915.29,404.00 L914.38,404.50 L912.00,405.00 L912.00,405.00 L909.62,404.50 L908.71,404.00 L908.07,403.50 L907.57,403.00 L907.18,402.50 L906.86,402.00 L906.61,401.50 L906.41,401.00 L906.27,400.50 L906.17,400.00 L906.11,399.50 L906.10,399.00 L906.10,398.50 L906.10,398.00 L906.10,397.50 L906.10,397.00 L906.10,396.50 L906.10,396.00 L906.10,395.50 L906.10,395.00 L906.10,394.50 L906.10,394.00 L906.10,393.50 L906.10,393.00 L906.10,392.50 L906.10,392.00 L906.10,391.50 L906.10,391.00 L906.10,390.50 L906.10,390.00 L906.10,389.50 L906.10,389.00 L906.10,388.50 L906.10,388.00 L906.10,387.50 L906.10,387.00 L906.10,386.50 L906.10,386.00 L906.10,385.50 L906.10,385.00 L906.10,384.50 L906.10,384.00 L906.10,383.50 L906.10,383.00 L906.10,382.50 L906.10,382.00 L906.10,381.50 L906.10,381.00 L906.10,380.50 L906.10,380.00 L906.10,379.50 L906.10,379.00 L906.10,378.50 L906.10,378.00 L906.10,377.50 L906.10,377.00 L906.11,376.50 L906.12,376.00 L906.15,375.50 L906.18,375.00 L906.23,374.50 L906.29,374.00 L906.36,373.50 L906.44,373.00 L906.53,372.50 L906.64,372.00 L906.77,371.50 L906.91,371.00 L907.06,370.50 L907.25,370.00 L907.45,369.50 L907.69,369.00 L907.97,368.50 L908.32,368.00 L908.77,367.50 L909.80,367.00 L908.77,366.50 L908.32,366.00 L907.97,365.50 L907.69,365.00 L907.45,364.50 L907.25,364.00 L907.06,363.50 L906.91,363.00 L906.77,362.50 L906.64,362.00 L906.53,361.50 L906.44,361.00 L906.36,360.50 L906.29,360.00 L906.23,359.50 L906.18,359.00 L906.15,358.50 L906.12,358.00 L906.11,357.50 L906.10,357.00 L906.10,356.50 L906.10,356.00 L906.10,355.50 L906.10,355.00 L906.10,354.50 L906.10,354.00 L906.10,353.50 L906.10,353.00 L906.10,352.50 L906.10,352.00 L906.10,351.50 L906.10,351.00 L906.10,350.50 L906.10,350.00 L906.10,349.50 L906.10,349.00 L906.10,348.50 L906.10,348.00 L906.10,347.50 L906.10,347.00 L906.10,346.50 L906.10,346.00 L906.10,345.50 L906.10,345.00 L906.10,344.50 L906.10,344.00 L906.10,343.50 L906.10,343.00 L906.10,342.50 L906.10,342.00 L906.10,341.50 L906.10,341.00 L906.10,340.50 L906.10,340.00 L906.10,339.50 L906.10,339.00 L906.10,338.50 L906.10,338.00 L906.10,337.50 L906.10,337.00 L906.10,336.50 L906.10,336.00 L906.10,335.50 L906.10,335.00 L906.10,334.50 L906.10,334.00 L906.11,333.50 L906.17,333.00 L906.27,332.50 L906.41,332.00 L906.61,331.50 L906.86,331.00 L907.18,330.50 L907.57,330.00 L908.07,329.50 L908.71,329.00 L909.62,328.50 L912.00,328.00 Z" fill="url(#redg)"/>
<path d="M581.20,83.80 C584.75,98.42 589.10,110.30 589.10,116.30 C589.10,122.30 584.75,134.39 581.20,149.20" fill="none" stroke="#1867b2" stroke-width="12.6" stroke-linecap="round"/><path d="M598.20,83.80 C594.74,98.42 590.50,110.30 590.50,116.30 C590.50,122.30 594.85,134.39 598.40,149.20" fill="none" stroke="#1867b2" stroke-width="12.6" stroke-linecap="round"/><path d="M581.20,83.80 C584.75,98.42 589.10,110.30 589.10,116.30 C589.10,122.30 584.75,134.39 581.20,149.20" fill="none" stroke="#2290d8" stroke-width="10.399999999999999" stroke-linecap="round"/><path d="M598.20,83.80 C594.74,98.42 590.50,110.30 590.50,116.30 C590.50,122.30 594.85,134.39 598.40,149.20" fill="none" stroke="#2290d8" stroke-width="10.399999999999999" stroke-linecap="round"/><path d="M581.20,83.80 C584.75,98.42 589.10,110.30 589.10,116.30 C589.10,122.30 584.75,134.39 581.20,149.20" fill="none" stroke="#56b3ea" stroke-width="6.1" stroke-linecap="round" transform="translate(-0.8,0)" filter="url(#blur1)"/><path d="M598.20,83.80 C594.74,98.42 590.50,110.30 590.50,116.30 C590.50,122.30 594.85,134.39 598.40,149.20" fill="none" stroke="#56b3ea" stroke-width="6.1" stroke-linecap="round" transform="translate(-0.8,0)" filter="url(#blur1)"/><path d="M581.20,83.80 C584.75,98.42 589.10,110.30 589.10,116.30 C589.10,122.30 584.75,134.39 581.20,149.20" fill="none" stroke="#c4eafb" stroke-width="1.6" stroke-linecap="round" transform="translate(-1,0)" opacity="0.75" filter="url(#blur05)"/><path d="M598.20,83.80 C594.74,98.42 590.50,110.30 590.50,116.30 C590.50,122.30 594.85,134.39 598.40,149.20" fill="none" stroke="#c4eafb" stroke-width="1.6" stroke-linecap="round" transform="translate(-1,0)" opacity="0.75" filter="url(#blur05)"/>
<path d="M851.20,83.80 C854.75,98.42 859.10,110.30 859.10,116.30 C859.10,122.30 854.75,134.39 851.20,149.20" fill="none" stroke="#9c0f13" stroke-width="12.6" stroke-linecap="round"/><path d="M868.20,83.80 C864.74,98.42 860.50,110.30 860.50,116.30 C860.50,122.30 864.85,134.39 868.40,149.20" fill="none" stroke="#9c0f13" stroke-width="12.6" stroke-linecap="round"/><path d="M851.20,83.80 C854.75,98.42 859.10,110.30 859.10,116.30 C859.10,122.30 854.75,134.39 851.20,149.20" fill="none" stroke="#d31d22" stroke-width="10.399999999999999" stroke-linecap="round"/><path d="M868.20,83.80 C864.74,98.42 860.50,110.30 860.50,116.30 C860.50,122.30 864.85,134.39 868.40,149.20" fill="none" stroke="#d31d22" stroke-width="10.399999999999999" stroke-linecap="round"/><path d="M851.20,83.80 C854.75,98.42 859.10,110.30 859.10,116.30 C859.10,122.30 854.75,134.39 851.20,149.20" fill="none" stroke="#ee6459" stroke-width="6.1" stroke-linecap="round" transform="translate(-0.8,0)" filter="url(#blur1)"/><path d="M868.20,83.80 C864.74,98.42 860.50,110.30 860.50,116.30 C860.50,122.30 864.85,134.39 868.40,149.20" fill="none" stroke="#ee6459" stroke-width="6.1" stroke-linecap="round" transform="translate(-0.8,0)" filter="url(#blur1)"/><path d="M851.20,83.80 C854.75,98.42 859.10,110.30 859.10,116.30 C859.10,122.30 854.75,134.39 851.20,149.20" fill="none" stroke="#ffc8bc" stroke-width="1.6" stroke-linecap="round" transform="translate(-1,0)" opacity="0.75" filter="url(#blur05)"/><path d="M868.20,83.80 C864.74,98.42 860.50,110.30 860.50,116.30 C860.50,122.30 864.85,134.39 868.40,149.20" fill="none" stroke="#ffc8bc" stroke-width="1.6" stroke-linecap="round" transform="translate(-1,0)" opacity="0.75" filter="url(#blur05)"/>
<path d="M214.20,386.40 C217.75,401.29 222.10,413.50 222.10,419.50 C222.10,425.50 217.59,436.61 213.90,450.60" fill="none" stroke="#1867b2" stroke-width="12.6" stroke-linecap="round"/><path d="M230.60,386.40 C227.41,401.29 223.50,413.50 223.50,419.50 C223.50,425.50 227.57,436.61 230.90,450.60" fill="none" stroke="#1867b2" stroke-width="12.6" stroke-linecap="round"/><path d="M214.20,386.40 C217.75,401.29 222.10,413.50 222.10,419.50 C222.10,425.50 217.59,436.61 213.90,450.60" fill="none" stroke="#2290d8" stroke-width="10.399999999999999" stroke-linecap="round"/><path d="M230.60,386.40 C227.41,401.29 223.50,413.50 223.50,419.50 C223.50,425.50 227.57,436.61 230.90,450.60" fill="none" stroke="#2290d8" stroke-width="10.399999999999999" stroke-linecap="round"/><path d="M214.20,386.40 C217.75,401.29 222.10,413.50 222.10,419.50 C222.10,425.50 217.59,436.61 213.90,450.60" fill="none" stroke="#56b3ea" stroke-width="6.1" stroke-linecap="round" transform="translate(-0.8,0)" filter="url(#blur1)"/><path d="M230.60,386.40 C227.41,401.29 223.50,413.50 223.50,419.50 C223.50,425.50 227.57,436.61 230.90,450.60" fill="none" stroke="#56b3ea" stroke-width="6.1" stroke-linecap="round" transform="translate(-0.8,0)" filter="url(#blur1)"/><path d="M214.20,386.40 C217.75,401.29 222.10,413.50 222.10,419.50 C222.10,425.50 217.59,436.61 213.90,450.60" fill="none" stroke="#c4eafb" stroke-width="1.6" stroke-linecap="round" transform="translate(-1,0)" opacity="0.75" filter="url(#blur05)"/><path d="M230.60,386.40 C227.41,401.29 223.50,413.50 223.50,419.50 C223.50,425.50 227.57,436.61 230.90,450.60" fill="none" stroke="#c4eafb" stroke-width="1.6" stroke-linecap="round" transform="translate(-1,0)" opacity="0.75" filter="url(#blur05)"/>
<path d="M248.20,386.40 C251.40,401.29 255.30,413.50 255.30,419.50 C255.30,425.50 251.28,436.61 248.00,450.60" fill="none" stroke="#9c0f13" stroke-width="12.6" stroke-linecap="round"/><path d="M264.80,386.40 C261.15,401.29 256.70,413.50 256.70,419.50 C256.70,425.50 261.26,436.61 265.00,450.60" fill="none" stroke="#9c0f13" stroke-width="12.6" stroke-linecap="round"/><path d="M248.20,386.40 C251.40,401.29 255.30,413.50 255.30,419.50 C255.30,425.50 251.28,436.61 248.00,450.60" fill="none" stroke="#d31d22" stroke-width="10.399999999999999" stroke-linecap="round"/><path d="M264.80,386.40 C261.15,401.29 256.70,413.50 256.70,419.50 C256.70,425.50 261.26,436.61 265.00,450.60" fill="none" stroke="#d31d22" stroke-width="10.399999999999999" stroke-linecap="round"/><path d="M248.20,386.40 C251.40,401.29 255.30,413.50 255.30,419.50 C255.30,425.50 251.28,436.61 248.00,450.60" fill="none" stroke="#ee6459" stroke-width="6.1" stroke-linecap="round" transform="translate(-0.8,0)" filter="url(#blur1)"/><path d="M264.80,386.40 C261.15,401.29 256.70,413.50 256.70,419.50 C256.70,425.50 261.26,436.61 265.00,450.60" fill="none" stroke="#ee6459" stroke-width="6.1" stroke-linecap="round" transform="translate(-0.8,0)" filter="url(#blur1)"/><path d="M248.20,386.40 C251.40,401.29 255.30,413.50 255.30,419.50 C255.30,425.50 251.28,436.61 248.00,450.60" fill="none" stroke="#ffc8bc" stroke-width="1.6" stroke-linecap="round" transform="translate(-1,0)" opacity="0.75" filter="url(#blur05)"/><path d="M264.80,386.40 C261.15,401.29 256.70,413.50 256.70,419.50 C256.70,425.50 261.26,436.61 265.00,450.60" fill="none" stroke="#ffc8bc" stroke-width="1.6" stroke-linecap="round" transform="translate(-1,0)" opacity="0.75" filter="url(#blur05)"/>
<polyline points="213.6,147.9 238.8,100.3 263.5,147.9" fill="none" stroke="#231f20" stroke-width="2.6" stroke-linejoin="miter"/>
<polyline points="219.6,372.9 238.7,331.7 257.7,372.9" fill="none" stroke="#231f20" stroke-width="2.6" stroke-linejoin="miter"/>
<path d="M101.7,427.4 L216.5,427.9 M101.7,427.4 L229.5,445.3" fill="none" stroke="#231f20" stroke-width="2.8"/>
<polygon points="232.00,259.00 232.00,292.50 224.20,292.50 239.00,307.90 253.80,292.50 246.00,292.50 246.00,259.00" fill="#fff" stroke="none"/>
<polyline points="232.00,259.00 232.00,292.50 224.20,292.50 239.00,307.90 253.80,292.50 246.00,292.50 246.00,259.00" fill="none" stroke="#40404e" stroke-width="1.3"/>
<polygon points="232.00,488.00 232.00,492.00 224.40,492.00 239.00,507.00 253.60,492.00 246.00,492.00 246.00,488.00" fill="#fff" stroke="none"/>
<polyline points="232.00,488.00 232.00,492.00 224.40,492.00 239.00,507.00 253.60,492.00 246.00,492.00 246.00,488.00" fill="none" stroke="#40404e" stroke-width="1.3"/>
<polygon points="716.50,-2.00 716.50,51.00 664.00,80.60 660.50,74.20 654.00,94.40 674.00,99.50 671.60,93.50 724.00,63.50 776.40,93.50 774.00,99.50 794.00,94.40 787.50,74.20 784.00,80.60 731.50,51.00 731.50,-2.00" fill="#fff" stroke="none"/>
<polyline points="716.50,-2.00 716.50,51.00 664.00,80.60 660.50,74.20 654.00,94.40 674.00,99.50 671.60,93.50 724.00,63.50 776.40,93.50 774.00,99.50 794.00,94.40 787.50,74.20 784.00,80.60 731.50,51.00 731.50,-2.00" fill="none" stroke="#2a2a38" stroke-width="1.1" stroke-linejoin="miter"/>
<polygon points="582.00,180.50 582.00,284.30 565.30,303.00 560.40,298.10 560.80,319.20 582.00,317.10 577.10,312.40 589.50,298.40 601.90,312.40 597.00,317.10 618.20,319.20 618.60,298.10 613.70,303.00 597.00,284.30 597.00,180.50" fill="#fff" stroke="none"/>
<polyline points="582.00,180.50 582.00,284.30 565.30,303.00 560.40,298.10 560.80,319.20 582.00,317.10 577.10,312.40 589.50,298.40 601.90,312.40 597.00,317.10 618.20,319.20 618.60,298.10 613.70,303.00 597.00,284.30 597.00,180.50" fill="none" stroke="#2a2a38" stroke-width="1.1" stroke-linejoin="miter"/>
<polygon points="852.00,180.50 852.00,284.30 835.30,303.00 830.40,298.10 830.80,319.20 852.00,317.10 847.10,312.40 859.50,298.40 871.90,312.40 867.00,317.10 888.20,319.20 888.60,298.10 883.70,303.00 867.00,284.30 867.00,180.50" fill="#fff" stroke="none"/>
<polyline points="852.00,180.50 852.00,284.30 835.30,303.00 830.40,298.10 830.80,319.20 852.00,317.10 847.10,312.40 859.50,298.40 871.90,312.40 867.00,317.10 888.20,319.20 888.60,298.10 883.70,303.00 867.00,284.30 867.00,180.50" fill="none" stroke="#2a2a38" stroke-width="1.1" stroke-linejoin="miter"/>
<circle cx="674.8" cy="121.4" r="9.2" fill="#15a2df"/><path d="M673.3,127.2 L676.6,127.2 L676.6,116.3 L674.2,116.3 C673.8,117.9 672.6,118.6 670.8,118.8 L670.8,121 L673.3,121 Z" fill="#fff"/>
<circle cx="674.9" cy="292.2" r="8.9" fill="#15a2df"/><text x="674.6" y="297.9" text-anchor="middle" style="font-family:'Liberation Sans';font-weight:bold;font-size:14px" fill="#fff">2</text>
<!-- GEN END -->
</svg>

<div class="h" style="left:9.5px;top:9px">Interphase</div>
<div class="h" style="left:494.8px;top:17.2px">Meiosis I</div>
<div class="h" style="left:494.5px;top:245.8px">Meiosis II</div>

<div class="t" style="left:163.3px;top:42.2px;line-height:17.9px">Homologous pair<br>of chromosomes<br>in diploid parent cell</div>
<div class="t" style="left:279.7px;top:257.7px;line-height:17px">Chromosomes<br>replicate</div>
<div class="t" style="left:68.1px;top:308.9px">Homologous pair of replicated chromosomes</div>
<div class="t" style="left:53px;top:417.7px;line-height:18px">Sister<br>chromatids</div>
<div class="t" style="left:320.6px;top:438.9px">Diploid cell with<br>replicated<br>chromosomes</div>
<div class="t" style="left:688.6px;top:113.3px;line-height:17.7px">Homologous<br>chromosomes<br>separate</div>
<div class="t" style="left:630.6px;top:184.9px">Haploid cells with<br>replicated chromosomes</div>
<div class="t" style="left:688.6px;top:283.6px;line-height:18.3px">Sister chromatids<br>separate</div>
<div class="t" style="left:551.6px;top:424.4px">Haploid cells with unreplicated chromosomes</div>
</body></html>
